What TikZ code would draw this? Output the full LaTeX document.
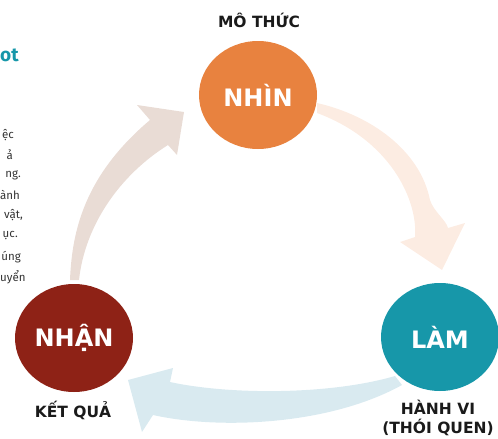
\documentclass[tikz,border=0pt]{standalone}
\usepackage{fontspec}
\setmainfont{Fira Sans}
\newfontfamily\capfont{DejaVu Sans}
\usetikzlibrary{shapes.geometric}
\definecolor{cOrange}{HTML}{E8823F}
\definecolor{cRed}{HTML}{8E2216}
\definecolor{cTeal}{HTML}{1797A9}
\definecolor{aBeige}{HTML}{E9DCD5}
\definecolor{aPeach}{HTML}{FCECE2}
\definecolor{aBlue}{HTML}{D9EAF0}
\definecolor{txtDark}{HTML}{1A1A1A}
\definecolor{txtGray}{HTML}{333333}
\tikzset{
  bigcircle/.style={ellipse, minimum width=118pt, minimum height=108pt, inner sep=0pt, text=white, font=\capfont\bfseries\fontsize{24}{24}\selectfont},
  caption/.style={text=txtDark, font=\capfont\bfseries\fontsize{15.5}{18.5}\selectfont, align=center, inner sep=0pt},
  frag/.style={anchor=east, text=txtGray, font=\fontsize{11.5}{12}\selectfont, inner sep=0pt},
}
\begin{document}
\begin{tikzpicture}[x=1pt,y=-1pt]
\useasboundingbox (0,0) rectangle (498,439);
% arrows
\fill[aBeige] (70,280) .. controls (72,230) and (85,175) .. (150,120)
  -- (137,105) -- (184,112) -- (177,155) -- (168,145)
  .. controls (120,175) and (85,225) .. (79,280) -- cycle;
\fill[aPeach] (317,103) .. controls (370,115) and (420,150) .. (430,200)
  .. controls (434,212) and (446,220) .. (448,228)
  -- (465,223) -- (442,270) -- (400,242) -- (415,237)
  .. controls (418,200) and (390,140) .. (317,113) -- cycle;
\fill[aBlue] (395,376) .. controls (330,395) and (230,395) .. (170,382)
  -- (173,368) -- (128,380) -- (142,432) -- (153,415)
  .. controls (220,430) and (330,425) .. (402,385) -- cycle;
% circles
\node[bigcircle, fill=cOrange] (nhin) at (258,95) {NHÌN};
\node[bigcircle, fill=cRed] (nhan) at (74,338) {NHẬN};
\node[bigcircle, fill=cTeal] (lam) at (440,337) {LÀM};
% captions
\node[caption] (mothuc) at (259,20) {MÔ THỨC};
\node[caption] (ketqua) at (73,410) {KẾT QUẢ};
\node[caption] (hanhvi) at (438,418) {HÀNH VI\\(THÓI QUEN)};
% cut-off text fragments at the left edge
\node[anchor=west, inner sep=0pt, text=cTeal, font=\bfseries\fontsize{19}{19}\selectfont] (ot) at (0,55) {ot};
\node[frag] (f1) at (14,135) {ệc};
\node[frag] (f2) at (13,155) {ả};
\node[frag] (f3) at (21,175) {ng.};
\node[frag] (f4) at (20,195) {ành};
\node[frag] (f5) at (23,215) {vật,};
\node[frag] (f6) at (18,236) {ục.};
\node[frag] (f7) at (21,257) {úng};
\node[frag, anchor=west] (f8) at (0,277) {uyển};
\end{tikzpicture}
\end{document}
